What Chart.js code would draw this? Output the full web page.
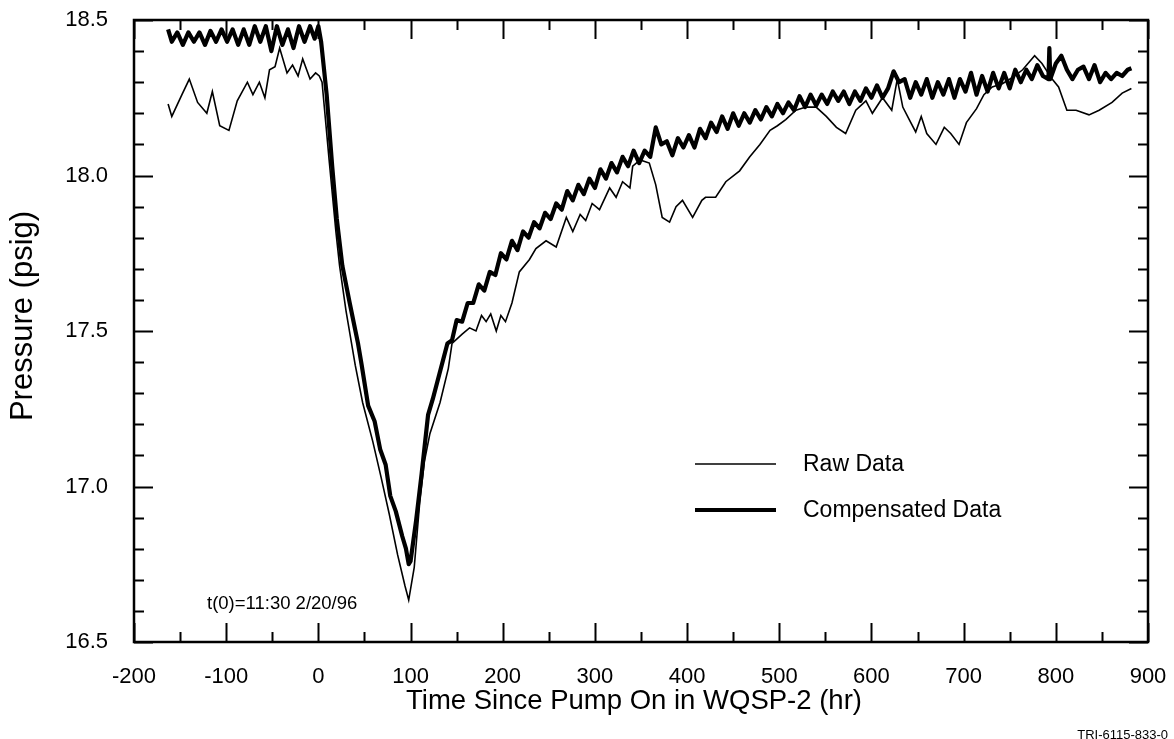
<!DOCTYPE html>
<html>
<head>
<meta charset="utf-8">
<script src="https://cdn.jsdelivr.net/npm/chart.js@4.4.1/dist/chart.umd.min.js"></script>
<style>
  html, body { margin: 0; padding: 0; background: #fff; }
  #wrap { width: 1174px; height: 739px; }
</style>
</head>
<body>
<div id="wrap"><canvas id="chart" width="1174" height="739"></canvas></div>
<script>
// Raw data (thin line), hours since pump on / psig
const rawX = [
  -163, -159, -148, -140, -131, -121, -115, -107, -97, -88,
  -77, -71, -64, -58, -53, -47, -42, -34, -28, -22,
  -17, -9, -3, 1, 4, 8, 12, 19, 23, 30,
  40, 48, 59, 68, 77, 86, 94, 98, 104, 110,
  115, 121, 132, 141, 145, 156, 164, 171, 177, 182,
  187, 193, 198, 203, 210, 218, 229, 236, 247, 258,
  269, 276, 284, 290, 297, 305, 316, 323, 330, 338,
  341, 349, 359, 366, 373, 381, 388, 395, 406, 416,
  420, 431, 442, 457, 468, 479, 490, 498, 507, 518,
  529, 540, 551, 562, 572, 583, 594, 601, 612, 622,
  628, 634, 641, 648, 654, 660, 670, 679, 686, 695,
  703, 714, 722, 731, 742, 753, 764, 777, 785, 796,
  803, 812, 822, 836, 847, 861, 872, 882
];
const rawY = [
  18.23, 18.19, 18.26, 18.31, 18.235, 18.20, 18.27, 18.16, 18.145, 18.24,
  18.30, 18.26, 18.30, 18.25, 18.34, 18.35, 18.41, 18.33, 18.355, 18.32,
  18.375, 18.31, 18.33, 18.32, 18.30, 18.17, 18.04, 17.82, 17.71, 17.565,
  17.39, 17.27, 17.145, 17.03, 16.91, 16.78, 16.68, 16.635, 16.74, 16.95,
  17.08, 17.17, 17.27, 17.38, 17.46, 17.49, 17.51, 17.50, 17.55, 17.53,
  17.555, 17.50, 17.55, 17.53, 17.59, 17.69, 17.73, 17.765, 17.79, 17.77,
  17.865, 17.82, 17.875, 17.855, 17.91, 17.89, 17.96, 17.93, 17.98, 17.96,
  18.03, 18.05, 18.04, 17.97, 17.865, 17.85, 17.90, 17.92, 17.865, 17.92,
  17.93, 17.93, 17.98, 18.015, 18.06, 18.10, 18.145, 18.16, 18.18, 18.21,
  18.22, 18.22, 18.19, 18.155, 18.135, 18.21, 18.24, 18.20, 18.25, 18.21,
  18.31, 18.22, 18.18, 18.14, 18.19, 18.135, 18.10, 18.155, 18.135, 18.10,
  18.17, 18.215, 18.26, 18.285, 18.295, 18.315, 18.34, 18.385, 18.36, 18.31,
  18.285, 18.21, 18.21, 18.195, 18.21, 18.235, 18.265, 18.28
];

// Compensated data (thick line)
const compX = [
  -163, -159, -153, -147, -141, -135, -129, -123, -117, -111,
  -105, -99, -93, -87, -81, -75, -69, -63, -57, -51,
  -45, -39, -33, -27, -21, -15, -9, -4, 0, 3,
  9, 15, 20, 26, 34, 43, 47, 54, 61, 67,
  73, 78, 84, 91, 95, 98, 100, 106, 112, 119,
  124, 132, 140, 145,
  150, 156, 162, 168, 174, 180, 186, 192, 198, 204,
  210, 216, 222, 228, 234, 240, 246, 252, 258, 264,
  270, 276, 282, 288, 294, 300, 306, 312, 318, 324,
  330, 336, 342, 348, 354, 360, 366, 372, 378, 384,
  390, 396, 402, 408, 414, 420, 426, 432, 438, 444,
  450, 456, 462, 468, 474, 480, 486, 492, 498, 504,
  510, 516, 522, 528, 534, 540, 546, 552, 558, 564,
  570, 576, 582, 588, 594, 600, 606, 612, 618, 624,
  630, 636, 642, 648, 654, 660, 666, 672, 678, 684,
  690, 696, 702, 708, 714, 720, 726, 732, 738, 744,
  750, 756, 762, 768, 774, 780, 786, 792, 793, 794,
  800, 806, 812, 818, 824, 830, 836, 842, 848, 854,
  860, 866, 872, 878, 882
];
const compY = [
  18.47, 18.43, 18.46, 18.42, 18.46, 18.43, 18.46, 18.42, 18.465, 18.43,
  18.47, 18.43, 18.47, 18.42, 18.47, 18.42, 18.48, 18.43, 18.48, 18.40,
  18.48, 18.42, 18.47, 18.41, 18.48, 18.43, 18.48, 18.44, 18.48, 18.43,
  18.26, 18.03, 17.86, 17.71, 17.59, 17.46, 17.39, 17.26, 17.21, 17.12,
  17.07, 16.97, 16.92, 16.84, 16.80, 16.75, 16.76, 16.89, 17.04, 17.23,
  17.28, 17.37, 17.46, 17.47,
  17.535, 17.53, 17.59, 17.59, 17.65, 17.63, 17.69, 17.68, 17.75, 17.73,
  17.79, 17.76, 17.82, 17.80, 17.85, 17.83, 17.88, 17.86, 17.91, 17.89,
  17.95, 17.92, 17.97, 17.94, 17.99, 17.96, 18.02, 17.99, 18.04, 18.01,
  18.06, 18.03, 18.08, 18.04, 18.08, 18.06, 18.155, 18.10, 18.11, 18.065,
  18.12, 18.09, 18.13, 18.09, 18.15, 18.12, 18.17, 18.14, 18.19, 18.15,
  18.20, 18.16, 18.20, 18.17, 18.21, 18.18, 18.22, 18.19, 18.23, 18.20,
  18.235, 18.21, 18.255, 18.22, 18.26, 18.225, 18.26, 18.23, 18.27, 18.24,
  18.27, 18.23, 18.27, 18.24, 18.28, 18.25, 18.29, 18.25, 18.28, 18.335,
  18.30, 18.31, 18.25, 18.30, 18.26, 18.31, 18.25, 18.30, 18.26, 18.31,
  18.25, 18.31, 18.27, 18.33, 18.26, 18.32, 18.27, 18.33, 18.28, 18.33,
  18.28, 18.34, 18.30, 18.34, 18.31, 18.355, 18.32, 18.31, 18.41, 18.31,
  18.36, 18.385, 18.34, 18.31, 18.34, 18.35, 18.31, 18.355, 18.30, 18.33,
  18.31, 18.33, 18.32, 18.34, 18.345
];

const xMin = -200, xMax = 900, xMajor = 100, xMinor = 50;
const yMin = 16.5, yMax = 18.5, yMajor = 0.5, yMinor = 0.1;
const seriesLabels = ['Raw Data', 'Compensated Data'];
const seriesWidths = [1.6, 4.2];
const xTitle = 'Time Since Pump On in WQSP-2 (hr)';
const yTitle = 'Pressure (psig)';

const FONT = "'Liberation Sans', Arial, Helvetica, sans-serif";

function toPoints(xs, ys) {
  return xs.map((x, i) => ({ x: x, y: ys[i] }));
}

// frame, inward tick marks, titles, legend and notes
const decorPlugin = {
  id: 'decor',
  afterDraw(chart) {
    const { ctx, chartArea: a, scales: { x, y } } = chart;
    ctx.save();
    ctx.strokeStyle = '#000';
    ctx.lineWidth = 2.5;
    ctx.strokeRect(a.left, a.top, a.right - a.left, a.bottom - a.top);

    ctx.lineWidth = 2;
    ctx.beginPath();
    for (let i = 0; xMin + i * xMinor <= xMax; i++) {
      const v = xMin + i * xMinor;
      const px = Math.round(x.getPixelForValue(v)) + 0.5;
      const len = (i % 2 === 0) ? 19 : 10;
      ctx.moveTo(px, a.bottom); ctx.lineTo(px, a.bottom - len);
      ctx.moveTo(px, a.top); ctx.lineTo(px, a.top + len);
    }
    for (let i = 0; i <= Math.round((yMax - yMin) / yMinor); i++) {
      const v = yMin + i * yMinor;
      const py = Math.round(y.getPixelForValue(v)) + 0.5;
      const len = (i % 5 === 0) ? 19 : 10;
      ctx.moveTo(a.left, py); ctx.lineTo(a.left + len, py);
      ctx.moveTo(a.right, py); ctx.lineTo(a.right - len, py);
    }
    ctx.stroke();

    ctx.fillStyle = '#000';
    ctx.textAlign = 'center';
    ctx.textBaseline = 'middle';

    // axis titles
    ctx.font = '27.5px ' + FONT;
    ctx.fillText(xTitle, a.left + 500, a.bottom + 59);
    ctx.save();
    ctx.translate(23, a.top + 296);
    ctx.rotate(-Math.PI / 2);
    ctx.font = '31px ' + FONT;
    ctx.fillText(yTitle, 0, 0);
    ctx.restore();

    // legend
    const lx0 = a.left + 561, lx1 = a.left + 642, tx = a.left + 669;
    const rows = [a.top + 444, a.top + 490];
    ctx.font = '23px ' + FONT;
    ctx.textAlign = 'left';
    rows.forEach((ry, i) => {
      ctx.lineWidth = seriesWidths[i];
      ctx.beginPath();
      ctx.moveTo(lx0, ry); ctx.lineTo(lx1, ry);
      ctx.stroke();
      ctx.fillText(seriesLabels[i], tx, ry + 1);
    });

    // time origin note
    ctx.font = '18.5px ' + FONT;
    ctx.fillText('t(0)=11:30 2/20/96', a.left + 73, a.bottom - 38);

    // figure id
    ctx.font = '13px ' + FONT;
    ctx.textAlign = 'right';
    ctx.textBaseline = 'alphabetic';
    ctx.fillText('TRI-6115-833-0', 1168, 739);
    ctx.restore();
  }
};

new Chart(document.getElementById('chart'), {
  type: 'line',
  data: {
    datasets: [
      {
        label: seriesLabels[0],
        data: toPoints(rawX, rawY),
        borderColor: '#000',
        borderWidth: seriesWidths[0],
        pointRadius: 0,
        tension: 0,
        fill: false
      },
      {
        label: seriesLabels[1],
        data: toPoints(compX, compY),
        borderColor: '#000',
        borderWidth: seriesWidths[1],
        pointRadius: 0,
        tension: 0,
        fill: false,
        borderJoinStyle: 'round'
      }
    ]
  },
  options: {
    responsive: false,
    animation: false,
    layout: { padding: { top: 20, right: 26, left: 0, bottom: 0 } },
    plugins: {
      legend: { display: false },
      tooltip: { enabled: false }
    },
    scales: {
      x: {
        type: 'linear',
        min: xMin,
        max: xMax,
        afterFit(scale) {
          scale.height = 97;
          scale.paddingLeft = 0;
          scale.paddingRight = 0;
        },
        grid: { display: false, drawTicks: false },
        border: { display: false },
        ticks: {
          stepSize: xMajor,
          color: '#000',
          padding: 22,
          maxRotation: 0,
          font: { family: FONT, size: 22 }
        }
      },
      y: {
        min: yMin,
        max: yMax,
        afterFit(scale) {
          scale.width = 134;
          scale.paddingTop = 0;
          scale.paddingBottom = 0;
        },
        grid: { display: false, drawTicks: false },
        border: { display: false },
        ticks: {
          stepSize: yMajor,
          color: '#000',
          padding: 26,
          font: { family: FONT, size: 22 },
          callback: v => v.toFixed(1)
        }
      }
    }
  },
  plugins: [decorPlugin]
});
</script>
</body>
</html>
